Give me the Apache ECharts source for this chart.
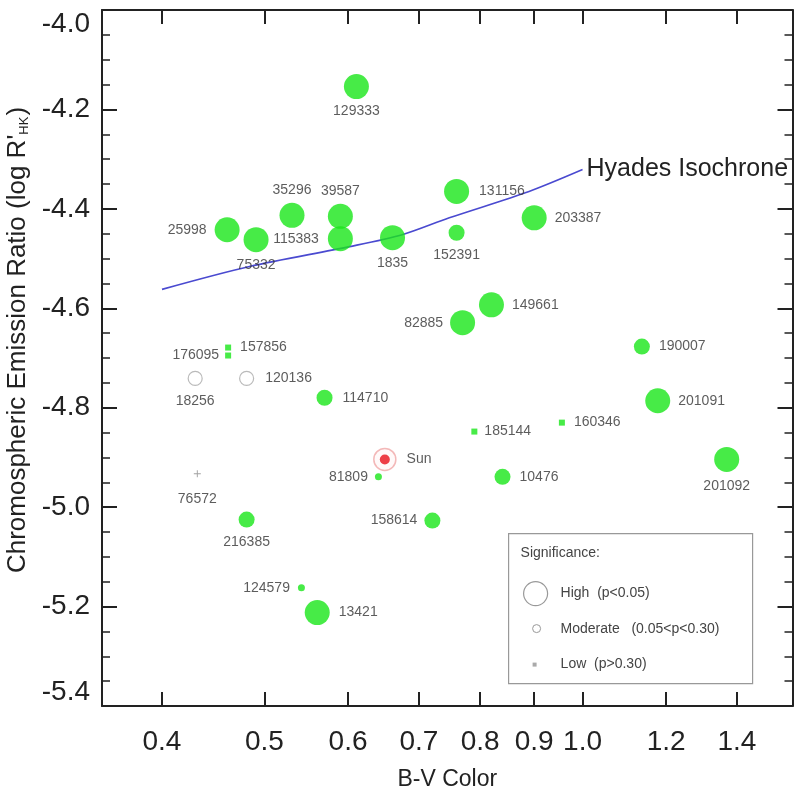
<!DOCTYPE html>
<html>
<head>
<meta charset="utf-8">
<script src="https://cdn.jsdelivr.net/npm/echarts@6/dist/echarts.min.js"></script>
<style>
html,body{margin:0;padding:0;background:#fff;}
#main{width:794px;height:801px;}
</style>
</head>
<body>
<div id="main"></div>
<script>
// HD numbers of the stars
var stars = ['129333','25998','75332','35296','39587','115383','1835','131156','152391','203387',
	'115404','149661','82885','190007','201091','160346','185144','81809','103095','10476',
	'201092','158614','216385','143761','182572','124579','13421','161239','176095','157856',
	'18256','120136','114710','76572'];
// B-V colour
var bv = [0.611,0.461,0.491,0.531,0.590,0.590,0.661,0.760,0.760,0.900,
	1.030,0.820,0.770,1.138,1.178,0.956,0.790,0.641,0.751,0.840,
	1.369,0.721,0.481,0.599,0.770,0.542,0.561,0.704,0.462,0.462,
	0.430,0.481,0.570,0.432];
// log R'HK
var logR = [-4.154,-4.442,-4.462,-4.413,-4.415,-4.460,-4.458,-4.365,-4.448,-4.418,
	-4.534,-4.593,-4.629,-4.677,-4.786,-4.830,-4.848,-4.939,-4.961,-4.939,
	-4.904,-5.027,-5.025,-5.085,-5.120,-5.162,-5.212,-5.192,-4.695,-4.679,
	-4.741,-4.741,-4.780,-4.933];
// marker class: L big, M middle, S small, Q small square, O open circle, P plus, N none
var kind = ['L','L','L','L','L','L','L','L','M','L',
	'N','L','L','M','L','Q','Q','S','N','M',
	'L','M','M','N','N','S','L','N','Q','Q',
	'O','O','M','P'];

// the Sun
var sunBV = [0.650];
var sunLogR = [-4.904];

// Hyades isochrone
var isoBV = [0.40, 0.484, 0.602, 0.675, 0.748, 0.890, 1.00];
var isoLogR = [-4.562, -4.516, -4.476, -4.452, -4.418, -4.365, -4.321];

// axis ticks
var xTicks = [0.4, 0.5, 0.6, 0.7, 0.8, 0.9, 1.0, 1.2, 1.4];

var FONT = "'Liberation Sans', Arial, Helvetica, sans-serif";

// where each label sits
var labelAt = {
	'129333':['bottom',5], '25998':['left',8], '75332':['bottom',6], '35296':['top',6],
	'39587':['top',6], '115383':['left',9], '1835':['bottom',6], '131156':['right',10],
	'152391':['bottom',7], '203387':['right',8], '149661':['right',8], '82885':['left',7],
	'190007':['right',9], '201091':['right',8], '160346':['right',9], '185144':['right',7],
	'81809':['left',7], '10476':['right',9], '201092':['bottom',7], '158614':['left',7],
	'216385':['bottom',8], '124579':['left',8], '13421':['right',9], '176095':['left',6],
	'157856':['right',9], '18256':['bottom',8], '120136':['right',11], '114710':['right',10],
	'76572':['bottom',15]
};
var sizeOf = {L:25, M:16, S:7, Q:6, O:14, P:7, N:0};

var starData = [];
for (var i = 0; i < stars.length; i++) {
	var k = kind[i];
	var lp = labelAt[stars[i]] || ['inside', 0];
	var item = {
		name: stars[i],
		value: [bv[i], logR[i]],
		symbol: 'circle',
		symbolSize: sizeOf[k],
		itemStyle: {color: '#19e619'},
		label: {position: lp[0], distance: lp[1]}
	};
	if (k == 'Q') item.symbol = 'rect';
	if (k == 'O') item.itemStyle = {color: '#fff', borderColor: '#a9a9a9', borderWidth: 1.2};
	if (k == 'P') {
		item.symbol = 'path://M2.6,0h0.8v2.6h2.6v0.8h-2.6v2.6h-0.8v-2.6h-2.6v-0.8h2.6z';
		item.itemStyle = {color: '#888'};
	}
	if (k == 'N') {
		item.symbol = 'none';
		item.symbolSize = 1;
	}
	starData.push(item);
}

var sunData = [];
for (var i = 0; i < sunBV.length; i++) sunData.push([sunBV[i], sunLogR[i]]);
var isoData = [];
for (var i = 0; i < isoBV.length; i++) isoData.push([isoBV[i], isoLogR[i]]);

var myChart = echarts.init(document.getElementById('main'));

var axisLineStyle = {color: '#222', width: 2};

var option = {
	animation: false,
	textStyle: {fontFamily: FONT},
	grid: {left: 102, top: 10, right: 1.5, bottom: 95, containLabel: false, outerBoundsMode: 'none'},
	xAxis: [
		{
			type: 'log', logBase: 10, min: 0.351, max: 1.58,
			name: 'B-V Color', nameLocation: 'middle', nameGap: 62,
			nameTextStyle: {fontSize: 23, color: '#222', fontFamily: FONT},
			axisLine: {onZero: false, lineStyle: axisLineStyle},
			axisTick: {inside: true, length: 14, customValues: xTicks, lineStyle: axisLineStyle},
			axisLabel: {customValues: xTicks, margin: 22, fontSize: 28, color: '#222', fontFamily: FONT,
				formatter: function (v) { return Number(v).toFixed(1); }},
			splitLine: {show: false},
			minorTick: {show: false}
		},
		{
			type: 'log', logBase: 10, min: 0.351, max: 1.58, position: 'top',
			axisLine: {onZero: false, lineStyle: axisLineStyle},
			axisTick: {inside: true, length: 14, customValues: xTicks, lineStyle: axisLineStyle},
			axisLabel: {show: false},
			splitLine: {show: false}
		}
	],
	yAxis: [
		{
			type: 'value', min: -5.4, max: -4.0, interval: 0.2,
			name: "Chromospheric Emission Ratio (log R'{s|HK})",
			nameLocation: 'middle', nameGap: 66,
			nameTextStyle: {fontSize: 26, color: '#222', fontFamily: FONT, padding: [0, 0, 0, 36],
				rich: {s: {fontSize: 13, verticalAlign: 'bottom', color: '#222', padding: [11, 1, 0, 0]}}},
			axisLine: {onZero: false, lineStyle: axisLineStyle},
			axisTick: {inside: true, length: 15, lineStyle: axisLineStyle},
			minorTick: {show: true, splitNumber: 4, length: 8, lineStyle: {color: '#222', width: 1.5}},
			axisLabel: {margin: 12, fontSize: 28, color: '#222', fontFamily: FONT,
				verticalAlignMinLabel: 'bottom', verticalAlignMaxLabel: 'top',
				formatter: function (v) { return v.toFixed(1); }},
			splitLine: {show: false}
		},
		{
			type: 'value', min: -5.4, max: -4.0, interval: 0.2, position: 'right',
			axisLine: {onZero: false, lineStyle: axisLineStyle},
			axisTick: {inside: true, length: 15, lineStyle: axisLineStyle},
			minorTick: {show: true, splitNumber: 4, length: 8, lineStyle: {color: '#222', width: 1.5}},
			axisLabel: {show: false},
			splitLine: {show: false}
		}
	],
	series: [
		{
			name: 'Hyades Isochrone',
			type: 'line',
			data: isoData,
			smooth: 0.3,
			symbol: 'none',
			lineStyle: {color: '#4a4ad0', width: 1.6},
			endLabel: {show: true, formatter: 'Hyades Isochrone', distance: 4,
				fontSize: 25, color: '#222', fontFamily: FONT},
			z: 1
		},
		{
			name: 'stars',
			type: 'scatter',
			data: starData,
			label: {show: true, formatter: '{b}', fontSize: 14, color: '#333', fontFamily: FONT},
			z: 3
		},
		{
			name: 'Sun ring',
			type: 'scatter',
			data: sunData,
			symbolSize: 22,
			itemStyle: {color: 'rgba(255,230,230,0.3)', borderColor: '#f0a8a8', borderWidth: 1.5},
			label: {show: true, formatter: 'Sun', position: 'right', distance: 10,
				fontSize: 14, color: '#333', fontFamily: FONT},
			z: 3
		},
		{
			name: 'Sun',
			type: 'scatter',
			data: sunData,
			symbolSize: 10,
			itemStyle: {color: '#e8101a'},
			z: 4
		}
	],
	graphic: [
		{
			type: 'group', left: 508, top: 533,
			children: [
				{type: 'rect', shape: {x: 0, y: 0, width: 244, height: 150},
					style: {fill: '#fff', stroke: '#999', lineWidth: 1.2}},
				{type: 'text', x: 12, y: 20, style: {text: 'Significance:', fill: '#444',
					font: '14px ' + FONT, verticalAlign: 'middle'}},
				{type: 'circle', shape: {cx: 27, cy: 60, r: 12}, style: {fill: 'none', stroke: '#999', lineWidth: 1.2}},
				{type: 'text', x: 52, y: 60, style: {text: 'High  (p<0.05)', fill: '#444',
					font: '14px ' + FONT, verticalAlign: 'middle'}},
				{type: 'circle', shape: {cx: 28, cy: 95, r: 4}, style: {fill: 'none', stroke: '#999', lineWidth: 1}},
				{type: 'text', x: 52, y: 96, style: {text: 'Moderate   (0.05<p<0.30)', fill: '#444',
					font: '14px ' + FONT, verticalAlign: 'middle'}},
				{type: 'rect', shape: {x: 24, y: 129, width: 4, height: 4}, style: {fill: '#aaa'}},
				{type: 'text', x: 52, y: 131, style: {text: 'Low  (p>0.30)', fill: '#444',
					font: '14px ' + FONT, verticalAlign: 'middle'}}
			]
		}
	]
};
myChart.setOption(option);
</script>
</body>
</html>
